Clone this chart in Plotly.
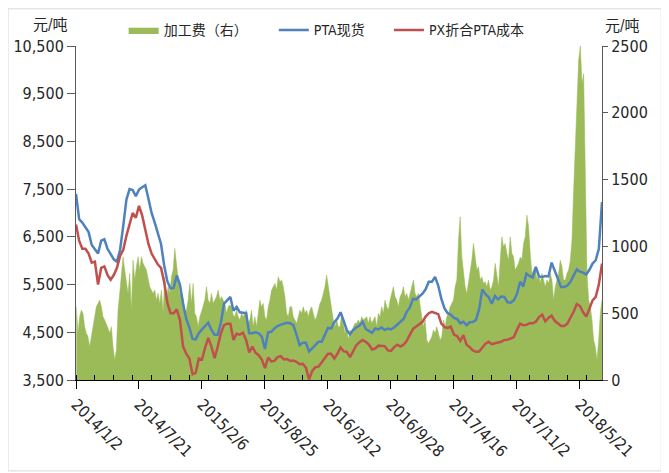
import pandas as pd
import plotly.graph_objects as go

# ---------------- data ----------------
line_start = "2014-01-02"
line_step = "10D"

pta_spot = [
    7400, 6870, 6800, 6700, 6600, 6330, 6250, 6150, 6420, 6450,
    6250, 6130, 6030, 5980, 6230, 6730, 7280, 7500, 7480, 7350,
    7490, 7540, 7580, 7300, 7000, 6800, 6600,
    6350, 5900, 5570, 5420, 5430, 5690, 5500, 5100, 4780, 4600,
    4360, 4350, 4480, 4560, 4640, 4700, 4550, 4450, 4450, 4700,
    5100, 5180, 5240, 4950, 5030, 4920, 4910, 4900, 4480,
    4480, 4500, 4480, 4410, 4150, 4500, 4510, 4580, 4630, 4660,
    4680, 4700, 4690, 4650, 4450, 4230, 4280, 4280, 4100, 4160,
    4220, 4300, 4300, 4460, 4590, 4580, 4710, 4790,
    4920, 4740, 4540, 4460, 4550, 4600, 4640, 4720, 4570, 4530,
    4490, 4580, 4560, 4600, 4550, 4580, 4560, 4600, 4670, 4720,
    4780, 4930, 5020, 5200, 5190, 5250, 5310, 5400, 5560,
    5560, 5660, 5480, 5200, 5000, 4900, 4870, 4800, 4780, 4690,
    4720, 4650, 4710, 4715, 4760, 4990, 5400, 5300, 5240, 5100,
    5260, 5190, 5250, 5240, 5130, 5120, 5170, 5300,
    5560, 5460, 5730, 5680, 5650, 5870, 5670, 5660, 5680, 5670,
    5960, 5800, 5650, 5450, 5450, 5480, 5560, 5700, 5820, 5770,
    5750, 5710, 5810, 5940, 6010, 6250, 7230,
]

px_cost = [
    6760, 6420, 6250, 6250, 6150, 5960, 5980, 5500, 5850, 5880,
    5700, 5600, 5700, 5850, 6100, 6230, 6520, 6780, 7000, 6900,
    7150, 6950, 6650, 6350, 6150, 6030, 5920,
    5850, 5550, 5120, 4900, 4900, 4980, 4760, 4200, 4050, 3950,
    3620, 3650, 3950, 3930, 4180, 4380, 4200, 3960, 4200, 4480,
    4650, 4680, 4680, 4340, 4470, 4450, 4490, 4340, 4080,
    4200, 4070, 4020, 3930, 3750, 3970, 3890, 3900, 3980, 4000,
    3930, 3940, 3900, 3910, 3880, 3830, 3840, 3760, 3510, 3690,
    3770, 3780, 3870, 3970, 4050, 4050, 3950, 4050,
    4180, 4100, 4090, 3980, 4110, 4230, 4290, 4340, 4300, 4240,
    4140, 4160, 4220, 4215, 4210, 4120, 4110, 4190, 4240, 4200,
    4240, 4320, 4430, 4570, 4620, 4680, 4720, 4830, 4900,
    4930, 4900, 4880, 4680, 4610, 4590, 4620, 4450, 4420, 4320,
    4440, 4240, 4190, 4120, 4090, 4095, 4190, 4260, 4300, 4250,
    4270, 4290, 4300, 4340, 4345, 4370, 4400, 4550,
    4680, 4650, 4655, 4690, 4690, 4720, 4820, 4870, 4730, 4800,
    4850, 4740, 4690, 4630, 4630, 4680, 4810, 4930, 5090, 5050,
    4920, 4830, 4990, 5170, 5240, 5500, 5940,
]

fee_start = "2014-01-03"
fee_end = "2018-07-30"
processing_fee = [
    548, 349, 474, 523, 499, 399, 349, 324, 249, 324,
    424, 499, 548, 573, 598, 548, 474, 449, 424, 387,
    349, 399, 249, 150, 224, 523, 648, 773, 922, 823,
    748, 648, 798, 523, 897, 748, 848, 922, 823, 922,
    873, 848, 823, 760, 698, 673, 648, 673, 598, 648,
    573, 673, 499, 773, 598, 698, 648, 773, 823, 985,
    860, 748, 648, 636, 611, 511, 523, 598, 723, 573,
    723, 499, 474, 399, 474, 511, 561, 598, 698, 598,
    573, 648, 573, 598, 623, 673, 598, 623, 598, 573,
    499, 548, 561, 548, 486, 474, 523, 474, 449, 499,
    474, 499, 523, 424,
    449, 523, 399, 474, 399, 499, 598, 548, 573, 474,
    449, 548, 598, 673, 698, 723, 673, 773, 735, 748,
    698, 623, 499, 474, 548, 548, 474, 449, 424, 474,
    523, 499, 548, 499, 523, 474, 523, 548, 499, 449,
    474, 523, 573, 598, 648, 698, 785, 698, 598, 499,
    449, 399, 449, 399,
    399, 499, 424, 349, 399, 299, 374, 349, 399, 424,
    424, 449, 424, 474, 449, 461, 474, 424, 474, 424,
    449, 474, 399, 499, 474, 548, 499, 598, 548, 523,
    598, 648, 698, 623, 598, 548, 623, 648, 698, 623,
    648, 598, 648, 685, 748, 648, 623, 648, 548, 474,
    399, 449, 299, 274,
    299, 324, 374, 349, 399, 349, 299, 324, 449, 399,
    474, 499, 548, 573, 598, 698, 748, 1047, 1222, 922,
    798, 698, 648, 723, 823, 897, 1022, 897, 823, 848,
    748, 773, 723, 735, 698, 748, 673, 698, 748, 873,
    798, 698, 897, 1072, 997, 1022, 947, 897, 1072, 947,
    922, 823, 848, 873,
    920, 900, 1022, 1072, 1234, 1147, 947, 798, 823, 848,
    748, 798, 723, 798, 748, 698, 748, 723, 798, 748,
    598, 698, 748, 798, 897, 848, 748, 748, 798, 823,
    897, 1047, 1421, 1795, 2044, 2393, 2500, 2219, 2293, 1546,
    798, 598, 548, 449, 299, 249, 150, 299, 499, 598,
]

series_names = ["加工费（右）", "PTA现货", "PX折合PTA成本"]
unit_label = "元/吨"
axis_start = "2014-01-02"
axis_end = "2018-07-30"
tick_days = 200
minor_days = 60
left_range = [3500, 10500]
right_range = [0, 2500]

# ---------------- figure ----------------
line_dates = pd.date_range(line_start, periods=len(pta_spot), freq=line_step)
fee_dates = pd.date_range(fee_start, fee_end, periods=len(processing_fee))

FONT = "Liberation Sans Narrow, Arial Narrow, DejaVu Sans Condensed, Noto Sans CJK SC, sans-serif"
GREEN, BLUE, RED = "#9BBB59", "#4F81BD", "#C0504D"

fig = go.Figure()
fig.add_trace(go.Scatter(
    x=fee_dates, y=processing_fee, name=series_names[0], yaxis="y",
    mode="lines", fill="tozeroy", fillcolor=GREEN,
    line=dict(color=GREEN, width=0.5), legend="legend",
))
fig.add_trace(go.Scatter(
    x=line_dates, y=pta_spot, name=series_names[1], yaxis="y2",
    mode="lines", line=dict(color=BLUE, width=2.5), legend="legend2",
))
fig.add_trace(go.Scatter(
    x=line_dates, y=px_cost, name=series_names[2], yaxis="y2",
    mode="lines", line=dict(color=RED, width=2.5), legend="legend3",
))

# the page body adds an 8px offset; work in screen pixels and convert
OFF = 8
W, H = 669 - OFF, 473 - OFF
PL, PR, PT, PB = 76.4, 601.8, 45.7, 380.0          # plot area on screen
ML, MT = PL - OFF, PT - OFF
MR, MB = W - (PR - OFF), H - (PB - OFF)


def sx(px):
    return (px - PL) / (PR - PL)


def sy(py):
    return 1 - (py - PT) / (PB - PT)


legend_common = dict(orientation="h", yanchor="middle", xanchor="left",
                     bgcolor="rgba(0,0,0,0)", borderwidth=0,
                     font=dict(family=FONT, size=14, color="#262626"))

fig.update_layout(
    width=W, height=H,
    margin=dict(l=ML, r=MR, t=MT, b=MB, autoexpand=False),
    paper_bgcolor="white", plot_bgcolor="white",
    font=dict(family=FONT, size=16, color="#262626"),
    showlegend=True,
    legend=dict(x=sx(124), y=sy(30), **legend_common),
    legend2=dict(x=sx(274), y=sy(30), **legend_common),
    legend3=dict(x=sx(389), y=sy(30), **legend_common),
    xaxis=dict(
        type="date", range=[axis_start, axis_end], automargin=False,
        tick0=axis_start, dtick=tick_days * 86400000,
        tickformat="%Y/%-m/%-d", tickangle=45,
        ticks="outside", ticklen=8, tickcolor="#000000",
        showline=True, linecolor="#000000", linewidth=1,
        showgrid=False, zeroline=False,
        tickfont=dict(family=FONT, size=16, color="#262626"),
        minor=dict(ticks="inside", ticklen=5, tickcolor="#000000",
                   tick0=axis_start, dtick=minor_days * 86400000, showgrid=False),
    ),
    yaxis=dict(
        side="right", range=right_range, tick0=0, dtick=500, automargin=False,
        ticks="outside", ticklen=5, tickcolor="#595959",
        showline=True, linecolor="#595959", linewidth=1,
        showgrid=False, zeroline=False,
        tickfont=dict(family=FONT, size=16, color="#262626"),
    ),
    yaxis2=dict(
        overlaying="y", side="left", range=left_range,
        tick0=left_range[0], dtick=1000, automargin=False,
        tickformat=",d",
        ticks="outside", ticklen=8, tickcolor="#595959",
        showline=True, linecolor="#595959", linewidth=1,
        showgrid=False, zeroline=False,
        tickfont=dict(family=FONT, size=16, color="#262626"),
    ),
    annotations=[
        dict(text=unit_label, xref="paper", yref="paper",
             x=sx(51), y=sy(25), showarrow=False,
             xanchor="center", yanchor="middle",
             font=dict(family=FONT, size=15, color="#262626")),
        dict(text=unit_label, xref="paper", yref="paper",
             x=sx(622), y=sy(26), showarrow=False,
             xanchor="center", yanchor="middle",
             font=dict(family=FONT, size=15, color="#262626")),
    ],
    shapes=[
        dict(type="rect", xref="paper", yref="paper",
             x0=sx(8.5), x1=sx(661),
             y0=sy(471), y1=sy(8.5),
             line=dict(color="#D9D9D9", width=1), fillcolor="rgba(0,0,0,0)",
             layer="below"),
    ],
)

fig.write_html("out.html")
